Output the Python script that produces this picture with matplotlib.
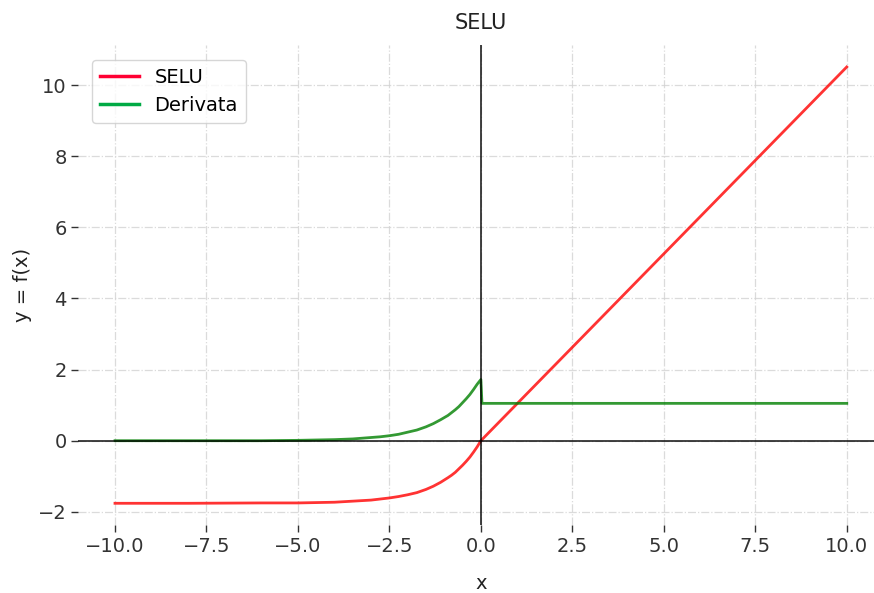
import matplotlib.pyplot as plt
from matplotlib.lines import Line2D

# ===============================================================================
#       DATA
# ===============================================================================
x_neg = [-10.0, -8.0, -6.0, -5.0, -4.0, -3.5, -3.0, -2.75, -2.5, -2.25, -2.0,
         -1.75, -1.5, -1.3, -1.1, -0.9, -0.8, -0.7, -0.6, -0.5, -0.4, -0.3,
         -0.2, -0.1, 0.0]
selu_neg = [-1.76, -1.76, -1.75, -1.75, -1.73, -1.70, -1.67, -1.64, -1.61,
            -1.57, -1.52, -1.46, -1.37, -1.28, -1.17, -1.04, -0.97, -0.89,
            -0.79, -0.69, -0.58, -0.46, -0.32, -0.17, 0.0]
deriv_neg = [0.00, 0.00, 0.00, 0.01, 0.03, 0.05, 0.09, 0.11, 0.14, 0.18, 0.24,
             0.30, 0.39, 0.48, 0.59, 0.71, 0.79, 0.87, 0.96, 1.07, 1.18, 1.30,
             1.44, 1.59, 1.72]

x_pos = [0.0, 10.0]
selu_pos = [0.0, 10.51]
x_deriv_pos = [0.03, 10.0]
deriv_pos = [1.05, 1.05]

x_ticks = [-10.0, -7.5, -5.0, -2.5, 0.0, 2.5, 5.0, 7.5, 10.0]
y_ticks = [-2, 0, 2, 4, 6, 8, 10]

# ===============================================================================
#       PLOT
# ===============================================================================
plt.rcParams['font.family'] = 'DejaVu Sans'
plt.rcParams['font.size'] = 14

fig = plt.figure(figsize=(8.74, 5.93), dpi=100)
ax = fig.add_axes([0.0897, 0.1147, 0.921, 0.809])

ax.plot(x_neg + x_pos, selu_neg + selu_pos, color="red", alpha=0.8, lw=2)
ax.plot(x_neg + x_deriv_pos, deriv_neg + deriv_pos, color="green", alpha=0.8, lw=2)

ax.axhline(0, color="black", lw=1.3, alpha=0.8)
ax.axvline(0, color="black", lw=1.3, alpha=0.8)

ax.set_xlim(-11, 11)
ax.set_ylim(-2.37, 11.12)
ax.set_xticks(x_ticks)
ax.set_yticks(y_ticks)

for s in ax.spines.values():
    s.set_visible(False)

ax.grid(True, linestyle="-.", color="lightgray", alpha=0.8, lw=0.9)
ax.tick_params(colors="#333333", length=5, width=1.0, labelsize=14)

ax.set_title("SELU", fontsize=15, color="#222222", pad=12)
ax.set_xlabel("x", fontsize=14, color="#222222", labelpad=13)
ax.set_ylabel("y = f(x)", fontsize=14, color="#222222")

handles = [Line2D([0], [0], color="#ff0033", lw=2.5),
           Line2D([0], [0], color="#00aa44", lw=2.5)]
ax.legend(handles, ["SELU", "Derivata"], loc="upper left", fontsize=14,
          bbox_to_anchor=(0.005, 0.99))

fig.savefig("out.png", dpi=100)
